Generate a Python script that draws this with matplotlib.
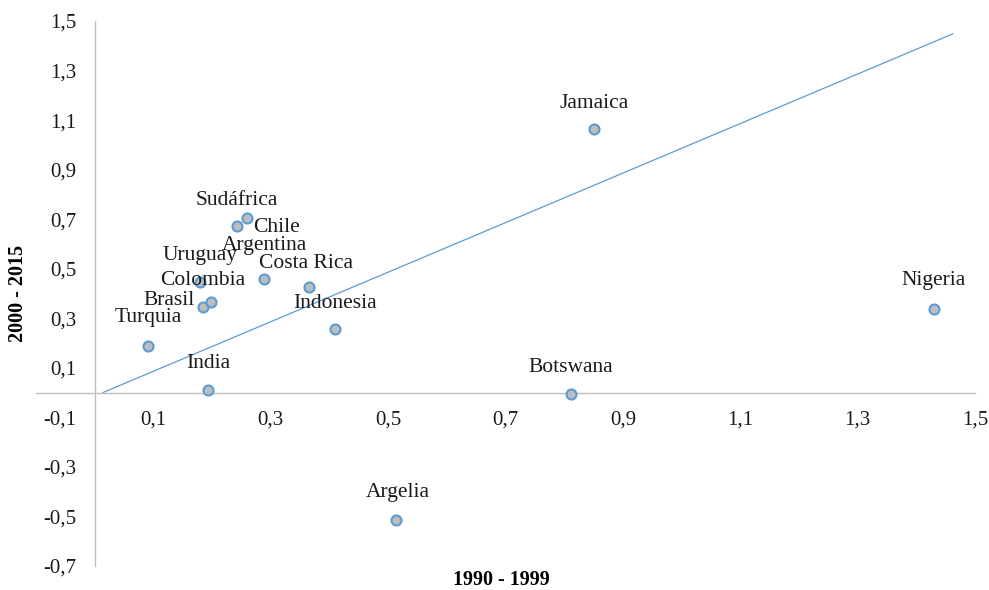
import numpy as np
import matplotlib
matplotlib.use("Agg")
import matplotlib.pyplot as plt
from matplotlib.ticker import FuncFormatter

plt.rcParams["font.family"] = ["Liberation Serif", "DejaVu Serif"]

# Growth in the two periods, one value per country
countries = ["Sudáfrica", "Chile", "Argentina", "Costa Rica", "Uruguay",
             "Colombia", "Brasil", "Turquia", "Indonesia", "India",
             "Argelia", "Jamaica", "Nigeria", "Botswana"]
x_9099 = [0.242, 0.260, 0.289, 0.366, 0.180, 0.184, 0.199,
          0.091, 0.410, 0.193, 0.514, 0.851, 1.430, 0.811]
y_0015 = [0.671, 0.703, 0.460, 0.428, 0.448, 0.347, 0.367,
          0.189, 0.255, 0.011, -0.515, 1.064, 0.338, -0.005]

# reference line
line_x = [0.014, 1.462]
line_y = [0.0, 1.448]

x_ticks = [0.1, 0.3, 0.5, 0.7, 0.9, 1.1, 1.3, 1.5]
y_ticks = [-0.7, -0.5, -0.3, -0.1, 0.1, 0.3, 0.5, 0.7, 0.9, 1.1, 1.3, 1.5]

# label placement: offset in pixels (dx, dy) and horizontal alignment
label_pos = {
    "Chile": (6, -9, "left"),
    "Argentina": (0, 33, "center"),
    "Costa Rica": (-3, 23, "center"),
    "Brasil": (-17, 1, "right"),
    "Turquia": (0, 28, "center"),
    "Argelia": (1, 28, "center"),
    "Nigeria": (0, 28, "center"),
}

fig = plt.figure(figsize=(9.89, 5.90), dpi=100)
ax = fig.add_axes([36 / 989, 24 / 590, 939 / 989, 545 / 590])

ax.plot(line_x, line_y, color="#5B9BD5", linewidth=0.9, zorder=2)
ax.scatter(x_9099, y_0015, s=52, facecolor="#BDBDBD", edgecolor="#5B9BD5",
           linewidth=1.5, zorder=3)

for name, xv, yv in zip(countries, x_9099, y_0015):
    dx, dy, ha = label_pos.get(name, (0, 26, "center"))
    ax.annotate(name, (xv, yv), xytext=(dx * 0.72, dy * 0.72),
                textcoords="offset points", ha=ha, va="center",
                fontsize=15.5, color="#1a1a1a", zorder=4)

ax.set_xlim(-0.1, 1.5)
ax.set_ylim(-0.7, 1.5)
ax.set_xticks(x_ticks)
ax.set_yticks(y_ticks)
fmt = FuncFormatter(lambda v, p: f"{v:.1f}".replace(".", ","))
ax.xaxis.set_major_formatter(fmt)
ax.yaxis.set_major_formatter(fmt)
ax.tick_params(length=0, labelsize=15, labelcolor="#1a1a1a", pad=13)

for side in ["top", "right"]:
    ax.spines[side].set_visible(False)
for side in ["left", "bottom"]:
    ax.spines[side].set_position(("data", 0))
    ax.spines[side].set_color("#BFBFBF")
    ax.spines[side].set_linewidth(1.0)

ax.set_xlabel("1990 - 1999", fontsize=14.5, fontweight="bold")
ax.set_ylabel("2000 - 2015", fontsize=14.5, fontweight="bold")
ax.xaxis.label.set_va("center")
ax.yaxis.label.set_va("center")
ax.xaxis.set_label_coords(0.496, -0.026)
ax.yaxis.set_label_coords(-0.019, 0.50)

plt.savefig("out.png", dpi=100)
